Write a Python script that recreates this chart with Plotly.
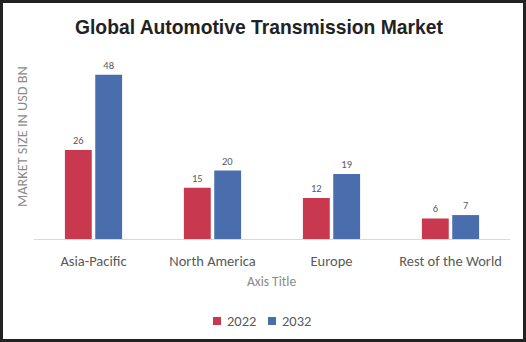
import plotly.graph_objects as go

regions = ["Asia-Pacific", "North America", "Europe", "Rest of the World"]
values_2022 = [26, 15, 12, 6]
values_2032 = [48, 20, 19, 7]
series_names = ["2022", "2032"]
colors = ["#C8394F", "#4A6DAE"]

W, H = 526, 342
ml, mr, mt, mb = 34, 16, 60, 103
pw, ph = W - ml - mr, H - mt - mb

def px_x(p):
    return (p - ml) / pw

def px_y(p):
    return (H - mb - p) / ph

FONT = "Carlito, Lato, 'Open Sans', sans-serif"
label_font = dict(family=FONT, size=10.5, color="#595959")

fig = go.Figure()
for name, vals, col in zip(series_names, [values_2022, values_2032], colors):
    fig.add_trace(go.Bar(
        x=regions, y=vals, name=name,
        marker=dict(color=col, line=dict(width=0)),
        text=[str(v) for v in vals], textposition="outside",
        textfont=label_font, cliponaxis=False,
    ))

shapes = [dict(type="rect", xref="paper", yref="paper", layer="below",
               x0=px_x(3), x1=px_x(523), y0=px_y(339), y1=px_y(3),
               fillcolor="white", line=dict(width=0))]
annotations = [
    dict(text="<b>Global Automotive Transmission Market</b>", xref="paper", yref="paper",
         x=px_x(259), y=px_y(28), xanchor="center", yanchor="middle", showarrow=False,
         font=dict(family="Liberation Sans, Arial, sans-serif", size=19.3, color="#222222")),
    dict(text="MARKET SIZE IN USD BN", xref="paper", yref="paper", textangle=-90,
         x=px_x(22), y=px_y(137), xanchor="center", yanchor="middle", showarrow=False,
         font=dict(family=FONT, size=14.3, color="#8a8a8a")),
    dict(text="Axis Title", xref="paper", yref="paper",
         x=px_x(271), y=px_y(281), xanchor="center", yanchor="middle", showarrow=False,
         font=dict(family=FONT, size=13.5, color="#8a8a8a")),
]

# manual legend (compact like the reference)
legend_x = [213, 268]
for name, col, lx in zip(series_names, colors, legend_x):
    shapes.append(dict(type="rect", xref="paper", yref="paper", layer="above",
                       x0=px_x(lx), x1=px_x(lx + 8), y0=px_y(325), y1=px_y(317),
                       fillcolor=col, line=dict(width=0)))
    annotations.append(dict(text=name, xref="paper", yref="paper",
                            x=px_x(lx + 12), y=px_y(321), xanchor="left", yanchor="middle",
                            showarrow=False, font=dict(family=FONT, size=14.5, color="#595959")))

fig.update_layout(
    width=W, height=H,
    margin=dict(l=ml, r=mr, t=mt, b=mb, autoexpand=False),
    paper_bgcolor="#222222",
    plot_bgcolor="white",
    barmode="group",
    bargap=0.49,
    bargroupgap=0.115,
    showlegend=False,
    xaxis=dict(showline=True, linecolor="#d9d9d9", linewidth=1, ticks="",
               ticklabelstandoff=9,
               tickfont=dict(family=FONT, size=14.5, color="#595959"),
               showgrid=False, zeroline=False),
    yaxis=dict(range=[0, ph / 3.42], visible=False, showgrid=False),
    shapes=shapes,
    annotations=annotations,
)

fig.write_html("out.html")
